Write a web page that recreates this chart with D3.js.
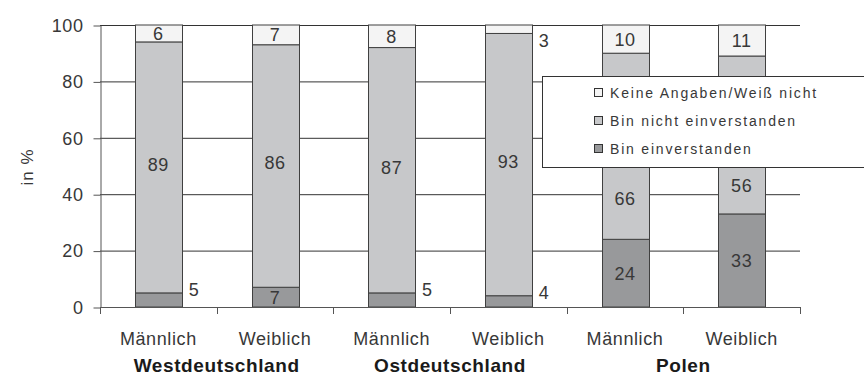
<!DOCTYPE html>
<html>
<head>
<meta charset="utf-8">
<script src="https://cdn.jsdelivr.net/npm/d3@7"></script>
<style>
  html, body { margin: 0; padding: 0; background: #fff; }
  svg { display: block; font-family: "Liberation Sans", Arial, sans-serif; }
</style>
</head>
<body>
<svg id="chart" width="864" height="376"></svg>
<script>
// Survey answers by sex within each region (percent)
const categories = ["Männlich", "Weiblich", "Männlich", "Weiblich", "Männlich", "Weiblich"];
const groups = ["Westdeutschland", "Ostdeutschland", "Polen"];
const einverstanden = [5, 7, 5, 4, 24, 33];
const nichtEinverstanden = [89, 86, 87, 93, 66, 56];
const keineAngaben = [6, 7, 8, 3, 10, 11];
const seriesNames = ["Bin einverstanden", "Bin nicht einverstanden", "Keine Angaben/Weiß nicht"];
const yTicks = [0, 20, 40, 60, 80, 100];
const yTitle = "in %";

const colors = ["#98999b", "#c7c8ca", "#f4f4f4"];
const ink = "#383838";

const svg = d3.select("#chart");
const plotLeft = 100, plotRight = 800, plotTop = 25, plotBottom = 307;

const x = d3.scaleBand()
  .domain(d3.range(categories.length))
  .range([plotLeft, plotRight])
  .paddingInner(0.6)
  .paddingOuter(0.3);

const y = d3.scaleLinear().domain([0, 100]).range([plotBottom, plotTop]);

// stacked rows: one object per bar
const rows = categories.map((c, i) => ({
  i, s0: einverstanden[i], s1: nichtEinverstanden[i], s2: keineAngaben[i]
}));
const stack = d3.stack().keys(["s0", "s1", "s2"]);
const layers = stack(rows);

// gridlines
svg.append("g")
  .selectAll("line")
  .data(yTicks.filter(t => t > 0))
  .join("line")
  .attr("x1", plotLeft).attr("x2", plotRight)
  .attr("y1", d => y(d) + 0.5).attr("y2", d => y(d) + 0.5)
  .attr("stroke", "#333").attr("stroke-width", 1);

// bars
layers.forEach((layer, k) => {
  svg.append("g")
    .selectAll("rect")
    .data(layer)
    .join("rect")
    .attr("x", (d, j) => Math.round(x(j)) + 0.5)
    .attr("width", Math.round(x.bandwidth()))
    .attr("y", d => y(d[1]))
    .attr("height", d => y(d[0]) - y(d[1]))
    .attr("fill", colors[k])
    .attr("stroke", "#404040")
    .attr("stroke-width", 1);
});

// legend geometry (needed to keep value labels in the visible part of Polen bars)
const legend = { x: 542, y: 76, w: 340, h: 91 };

// value labels
const labelG = svg.append("g")
  .attr("font-size", 18)
  .attr("letter-spacing", 0.6)
  .attr("fill", ink);

layers.forEach((layer, k) => {
  layer.forEach((d, j) => {
    const v = d[1] - d[0];
    const yTop = y(d[1]), yBot = y(d[0]);
    const bx = x(j), bw = x.bandwidth();
    let tx, ty, anchor = "middle";
    if (v < 6) {
      // too small for an inside label: put it beside the bar
      tx = bx + bw + 7; anchor = "start";
      ty = (k === 0) ? yTop - 3 : yBot + 7;
    } else {
      tx = bx + bw / 2;
      let visTop = yTop;
      let lift = k === 1 ? 3 : 0;
      if (bx + bw > legend.x && yTop < legend.y + legend.h && yBot > legend.y + legend.h) {
        visTop = legend.y + legend.h;
        lift = 5;
      }
      ty = (visTop + yBot) / 2 - lift;
    }
    labelG.append("text")
      .attr("x", tx).attr("y", ty)
      .attr("dy", "0.36em")
      .attr("text-anchor", anchor)
      .text(v);
  });
});

// y axis
const yAxis = d3.axisLeft(y)
  .tickValues(yTicks)
  .tickSize(7)
  .tickSizeOuter(0)
  .tickPadding(10);
const yg = svg.append("g").attr("transform", `translate(${plotLeft + 0.5},0.5)`).call(yAxis);
yg.select(".domain").attr("stroke", "#555");
yg.selectAll(".tick line").attr("stroke", "#555");
yg.selectAll(".tick text")
  .attr("font-size", 18).attr("letter-spacing", 0.6)
  .attr("fill", ink);
yg.attr("font-family", null).attr("font-size", null);

// x axis baseline and ticks at category boundaries
const gap = x.step() - x.bandwidth();
const bounds = d3.range(categories.length).map(i => x(i) - gap / 2).concat([plotRight]);
bounds[0] = plotLeft;
const xg = svg.append("g");
xg.append("line")
  .attr("x1", plotLeft).attr("x2", plotRight)
  .attr("y1", plotBottom + 0.5).attr("y2", plotBottom + 0.5)
  .attr("stroke", "#555");
xg.selectAll("line.tk")
  .data(bounds)
  .join("line")
  .attr("class", "tk")
  .attr("x1", d => Math.round(d) + 0.5).attr("x2", d => Math.round(d) + 0.5)
  .attr("y1", plotBottom).attr("y2", plotBottom + 7)
  .attr("stroke", "#555");

// category labels
svg.append("g")
  .selectAll("text")
  .data(categories)
  .join("text")
  .attr("x", (d, i) => x(i) + x.bandwidth() / 2)
  .attr("y", 345)
  .attr("text-anchor", "middle")
  .attr("font-size", 18)
  .attr("letter-spacing", 0.6)
  .attr("fill", ink)
  .text(d => d);

// group labels
svg.append("g")
  .selectAll("text")
  .data(groups)
  .join("text")
  .attr("x", (d, g) => (x(2 * g) + x(2 * g + 1) + x.bandwidth()) / 2)
  .attr("y", 372)
  .attr("text-anchor", "middle")
  .attr("font-size", 19)
  .attr("font-weight", "bold")
  .attr("letter-spacing", 0.6)
  .attr("fill", "#1a1a1a")
  .text(d => d);

// y title
svg.append("text")
  .attr("transform", "translate(33,167) rotate(-90)")
  .attr("text-anchor", "middle")
  .attr("font-size", 17)
  .attr("letter-spacing", 1)
  .attr("fill", ink)
  .text(yTitle);

// legend
const lg = svg.append("g");
lg.append("rect")
  .attr("x", legend.x + 0.5).attr("y", legend.y + 0.5)
  .attr("width", legend.w).attr("height", legend.h)
  .attr("fill", "#fff").attr("stroke", "#333");
const legendItems = [2, 1, 0];
legendItems.forEach((k, r) => {
  const cy = 93 + r * 28;
  lg.append("rect")
    .attr("x", 594.5).attr("y", cy - 4.5)
    .attr("width", 8).attr("height", 8)
    .attr("fill", colors[k]).attr("stroke", "#333");
  lg.append("text")
    .attr("x", 610).attr("y", cy)
    .attr("dy", "0.36em")
    .attr("font-size", 14)
    .attr("letter-spacing", 1.8)
    .attr("fill", ink)
    .text(seriesNames[k]);
});
</script>
</body>
</html>
